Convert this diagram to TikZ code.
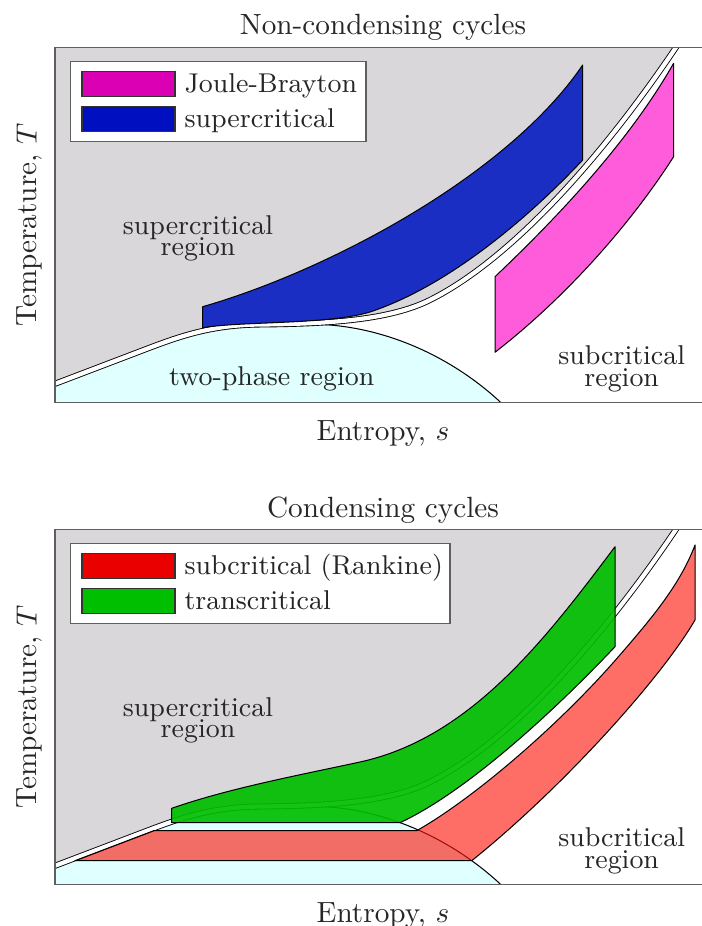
\documentclass[tikz,border=0pt]{standalone}
\definecolor{regiongray}{RGB}{217,215,217}
\definecolor{domecyan}{RGB}{224,255,255}
\definecolor{framegray}{RGB}{95,95,95}
\definecolor{jbmag}{RGB}{220,0,180}
\definecolor{jbpink}{RGB}{255,92,220}
\definecolor{scblue}{RGB}{0,16,192}
\definecolor{scblueplot}{RGB}{27,46,196}
\definecolor{rkred}{RGB}{235,0,0}
\definecolor{rkplot}{RGB}{255,20,10}
\definecolor{tcgreen}{RGB}{0,190,0}
\newcommand{\Dcurve}{(30,393.3) -- (150,347.6) .. controls (185,334.3) and (215,325) .. (260,324.5) .. controls (330,323.8) and (390,320) .. (430,300) .. controls (510,260) and (600,160) .. (676,47.3) -- (690,26.6)}
\newcommand{\panelbg}{%
  \begin{scope}
    \clip (55,47.3) rectangle (704,402.7);
    \fill[regiongray] \Dcurve -- (30,26.6) -- cycle;
    \begin{scope}
      \clip (30,250) -- (310,250) -- (310,324.2) .. controls (380,324.2) and (450,355) .. (501,402.7) -- (501,420) -- (30,420) -- cycle;
      \fill[domecyan] \Dcurve -- (704,420) -- (30,420) -- cycle;
    \end{scope}
    \draw[thinline] (310,324.2) .. controls (380,324.2) and (450,355) .. (501,402.7);
    \draw[dbl] \Dcurve;
  \end{scope}
  \draw[framegray, line width=0.5pt] (55,47.3) rectangle (704,402.7);
}
\tikzset{
  thinline/.style={draw=black, line width=0.35pt},
  dbl/.style={draw=black, line width=0.3pt, double=white, double distance=1.45pt},
  cycleshape/.style={draw=black, line width=0.35pt, line join=round},
  legframe/.style={fill=white, draw=framegray, line width=0.45pt},
  swatch/.style={draw=black!80, line width=0.35pt},
  titletext/.style={inner sep=0pt, font=\fontsize{10}{12}\selectfont, text=black!85},
  legtext/.style={inner sep=0pt, font=\fontsize{9.3}{11}\selectfont, text=black!85},
  regtext/.style={inner sep=0pt, font=\fontsize{9.3}{11}\selectfont, text=black!85},
  firstline/.style={text depth=0pt},
  secondline/.style={text height=4.3pt},
}
\begin{document}
\begin{tikzpicture}[x=0.342pt, y=-0.342pt]
\useasboundingbox (0,0) rectangle (701,926);
% ---------------- top panel ----------------
\panelbg
\filldraw[cycleshape, fill=scblueplot] (202.7,306.7) .. controls (330,270) and (508,175) .. (582.7,65) -- (582.7,160) .. controls (534,212) and (454,283) .. (373,311) .. controls (333,325) and (240,321) .. (202.7,327.8) -- cycle;
\filldraw[cycleshape, fill=jbpink] (495,276.7) .. controls (560,215) and (630,140) .. (673.6,63.3) -- (673.6,156.7) .. controls (630,225) and (565,298) .. (495,352.3) -- cycle;
\draw[legframe] (70.3,61.7) rectangle (366,141.7);
\filldraw[swatch, fill=jbmag] (82,71.7) rectangle (175,96.7);
\filldraw[swatch, fill=scblue] (82,106.7) rectangle (175,131.7);
\node[legtext, anchor=base west] (lgjb) at (184,92.5) {Joule-Brayton};
\node[legtext, anchor=base west] (lgsc) at (184,127.5) {supercritical};
\node[regtext, firstline, anchor=base] (scA1) at (198,234.2) {supercritical};
\node[regtext, secondline, anchor=base] (scA2) at (198,255.2) {region};
\node[regtext, anchor=base] (tpA) at (271.7,386) {two-phase region};
\node[regtext, firstline, anchor=base] (sbA1) at (621.7,364.5) {subcritical};
\node[regtext, secondline, anchor=base] (sbA2) at (621.7,386.5) {region};
\node[titletext, anchor=base] (titleA) at (383,35) {Non-condensing cycles};
\node[titletext, anchor=base] (xA) at (383,440) {Entropy, $s$};
\node[titletext, anchor=base, rotate=90] (yA) at (36.7,225) {Temperature, $T$};
% ---------------- bottom panel ----------------
\begin{scope}[shift={(0,482)}]
\panelbg
\end{scope}
\filldraw[cycleshape, fill=rkplot, fill opacity=0.62] (74.9,860.7) -- (153.7,830.7) -- (416.7,830.7) .. controls (476,797) and (562,722) .. (619,656) .. controls (651,619) and (680,585) .. (695,545) -- (695,620) .. controls (660,680) and (560,790) .. (471.7,860.7) -- cycle;
\filldraw[cycleshape, fill=tcgreen, fill opacity=0.92] (171.7,808.3) .. controls (230,788) and (300,775) .. (360,762) .. controls (470,738) and (545,640) .. (615,546.7) -- (615,646.7) .. controls (560,705) and (470,790) .. (400,822.7) -- (171.7,822.7) -- cycle;
\draw[legframe] (70.3,543.7) rectangle (450,623.7);
\filldraw[swatch, fill=rkred] (82,553.7) rectangle (175,578.7);
\filldraw[swatch, fill=tcgreen] (82,588.7) rectangle (175,613.7);
\node[legtext, anchor=base west] (lgrk) at (184,574.5) {subcritical (Rankine)};
\node[legtext, anchor=base west] (lgtc) at (184,609.5) {transcritical};
\node[regtext, firstline, anchor=base] (scB1) at (198,716.2) {supercritical};
\node[regtext, secondline, anchor=base] (scB2) at (198,737.2) {region};
\node[regtext, firstline, anchor=base] (sbB1) at (621.7,846.5) {subcritical};
\node[regtext, secondline, anchor=base] (sbB2) at (621.7,868.5) {region};
\node[titletext, anchor=base] (titleB) at (383,517) {Condensing cycles};
\node[titletext, anchor=base] (xB) at (383,922) {Entropy, $s$};
\node[titletext, anchor=base, rotate=90] (yB) at (36.7,707) {Temperature, $T$};
\end{tikzpicture}
\end{document}
